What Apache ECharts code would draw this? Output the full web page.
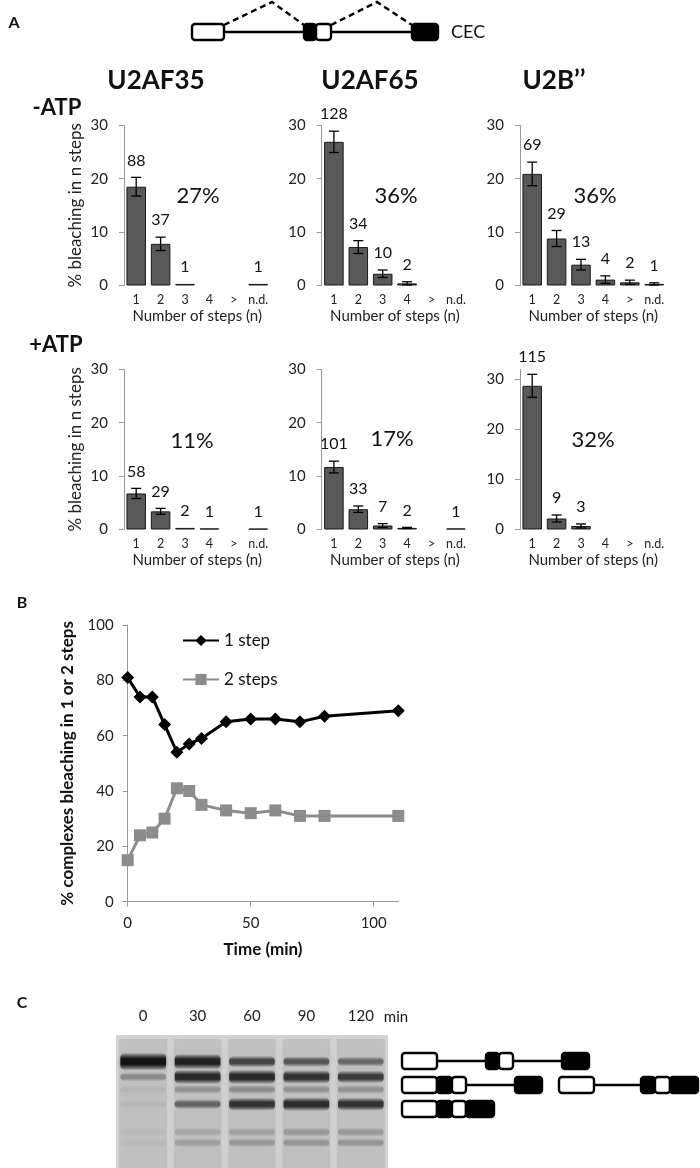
<!DOCTYPE html>
<html>
<head>
<meta charset="utf-8">
<script src="https://cdn.jsdelivr.net/npm/echarts@6/dist/echarts.min.js"></script>
<style>
html, body { margin: 0; padding: 0; background: #fff; }
#main { width: 700px; height: 1168px; }
</style>
</head>
<body>
<div id="main"></div>
<script>
// ---- panel A data ----
var stepCats = ['1', '2', '3', '4', '>', 'n.d.'];
var barTicks = [0, 10, 20, 30];

var u2af35MinusMean = [18.5, 7.8, 0.3, 0, 0, 0.3];
var u2af35MinusErr  = [1.75, 1.25, 0, 0, 0, 0];
var u2af35MinusN    = ['88', '37', '1', '', '', '1'];

var u2af65MinusMean = [26.9, 7.2, 2.2, 0.4, 0, 0];
var u2af65MinusErr  = [2.0, 1.2, 0.7, 0.3, 0, 0];
var u2af65MinusN    = ['128', '34', '10', '2', '', ''];

var u2bMinusMean = [20.9, 8.8, 3.9, 1.1, 0.6, 0.3];
var u2bMinusErr  = [2.2, 1.5, 1.0, 0.7, 0.4, 0.2];
var u2bMinusN    = ['69', '29', '13', '4', '2', '1'];

var u2af35PlusMean = [6.75, 3.4, 0.3, 0.2, 0, 0.15];
var u2af35PlusErr  = [0.95, 0.55, 0, 0, 0, 0];
var u2af35PlusN    = ['58', '29', '2', '1', '', '1'];

var u2af65PlusMean = [11.7, 3.8, 0.75, 0.3, 0, 0.2];
var u2af65PlusErr  = [1.1, 0.6, 0.35, 0.1, 0, 0];
var u2af65PlusN    = ['101', '33', '7', '2', '', '1'];

var u2bPlusMean = [28.7, 2.2, 0.7, 0, 0, 0];
var u2bPlusErr  = [2.3, 0.7, 0.4, 0, 0, 0];
var u2bPlusN    = ['115', '9', '3', '', '', ''];

var percents = ['27%', '36%', '36%', '11%', '17%', '32%'];

// ---- panel B data ----
var times    = [0, 5, 10, 15, 20, 25, 30, 40, 50, 60, 70, 80, 110];
var oneStep  = [81, 74, 74, 64, 54, 57, 59, 65, 66, 66, 65, 67, 69];
var twoSteps = [15, 24, 25, 30, 41, 40, 35, 33, 32, 33, 31, 31, 31];
var timeTicks = [0, 50, 100];

// ---- panel C data (gel) ----
var lanes = ['0', '30', '60', '90', '120'];
var bandPos = [20, 31.5, 41, 52, 73, 81];   // migration, % of gel height
var bandIntensity = [
    [1.0, 0.3, 0.06, 0.06, 0.04, 0.04],
    [0.9, 0.85, 0.25, 0.5, 0.14, 0.18],
    [0.68, 0.85, 0.28, 0.78, 0.18, 0.22],
    [0.58, 0.8, 0.25, 0.82, 0.22, 0.24],
    [0.48, 0.74, 0.25, 0.78, 0.22, 0.24]
];

var FONT = 'Lato, "Open Sans", sans-serif';
var chart = echarts.init(document.getElementById('main'));

var panels = [
    { mean: u2af35MinusMean, err: u2af35MinusErr, n: u2af35MinusN, max: 30 },
    { mean: u2af65MinusMean, err: u2af65MinusErr, n: u2af65MinusN, max: 30 },
    { mean: u2bMinusMean, err: u2bMinusErr, n: u2bMinusN, max: 30 },
    { mean: u2af35PlusMean, err: u2af35PlusErr, n: u2af35PlusN, max: 30 },
    { mean: u2af65PlusMean, err: u2af65PlusErr, n: u2af65PlusN, max: 30 },
    { mean: u2bPlusMean, err: u2bPlusErr, n: u2bPlusN, max: 32 }
];
var lefts = [124, 321.7, 520];
var tops = [125.3, 369.3];

var grids = [], xAxes = [], yAxes = [], series = [];

panels.forEach(function (p, i) {
    grids.push({ left: lefts[i % 3], top: tops[Math.floor(i / 3)], width: 146.4, height: 160.2 });
    xAxes.push({
        type: 'category', gridIndex: i, data: stepCats,
        axisLine: { show: false }, axisTick: { show: false },
        axisLabel: { interval: 0, fontSize: 12.5, margin: 8, color: '#222', fontFamily: FONT },
        name: 'Number of steps (n)', nameLocation: 'middle', nameGap: 23,
        nameTextStyle: { fontSize: 15, color: '#222', fontFamily: FONT }
    });
    yAxes.push({
        type: 'value', gridIndex: i, min: 0, max: p.max, interval: 10,
        axisLine: { show: true, lineStyle: { color: '#9a9a9a' } },
        axisTick: { show: true, length: 5, customValues: barTicks, lineStyle: { color: '#9a9a9a' } },
        axisLabel: { fontSize: 15, margin: 16, color: '#222', fontFamily: FONT, customValues: barTicks },
        splitLine: { show: false },
        name: i % 3 === 0 ? '% bleaching in n steps' : '',
        nameLocation: 'middle', nameGap: 40,
        nameTextStyle: { fontSize: 17, color: '#222', fontFamily: FONT }
    });
    series.push({
        type: 'bar', xAxisIndex: i, yAxisIndex: i, barWidth: '80%',
        data: p.mean.map(function (v) { return v === 0 ? '-' : v; }),
        itemStyle: { color: '#595959', borderColor: '#1a1a1a', borderWidth: 1 },
        silent: true
    });
    series.push({
        type: 'custom', xAxisIndex: i, yAxisIndex: i, clip: false, z: 5,
        data: p.mean.map(function (v, k) { return [k, v, p.err[k]]; }),
        encode: { x: 0, y: 1 },
        renderItem: function (params, api) {
            var x = api.value(0), m = api.value(1), e = api.value(2);
            var top = api.coord([x, m + e]);
            var bot = api.coord([x, m - e]);
            var kids = [];
            if (e > 0) {
                kids.push({ type: 'line', shape: { x1: top[0], y1: top[1], x2: bot[0], y2: bot[1] }, style: { stroke: '#000', lineWidth: 1.3 } });
                kids.push({ type: 'line', shape: { x1: top[0] - 5, y1: top[1], x2: top[0] + 5, y2: top[1] }, style: { stroke: '#000', lineWidth: 1.3 } });
                kids.push({ type: 'line', shape: { x1: bot[0] - 5, y1: bot[1], x2: bot[0] + 5, y2: bot[1] }, style: { stroke: '#000', lineWidth: 1.3 } });
            }
            var lbl = p.n[params.dataIndex];
            if (lbl) {
                kids.push({ type: 'text', x: top[0], y: top[1] - 17,
                    style: { text: lbl, fontSize: 16, fill: '#111', fontFamily: FONT, align: 'center', verticalAlign: 'middle' } });
            }
            return { type: 'group', children: kids };
        }
    });
});

// panel B
grids.push({ left: 127.7, top: 625, width: 270.6, height: 276.7 });
xAxes.push({
    type: 'value', gridIndex: 6, min: 0, max: 110,
    axisLine: { show: true, lineStyle: { color: '#9a9a9a' } },
    axisTick: { show: true, length: 5, customValues: timeTicks, lineStyle: { color: '#9a9a9a' } },
    axisLabel: { fontSize: 15, margin: 14, color: '#222', fontFamily: FONT, customValues: timeTicks },
    splitLine: { show: false },
    name: 'Time (min)', nameLocation: 'middle', nameGap: 39,
    nameTextStyle: { fontSize: 17, fontWeight: 'bold', color: '#111', fontFamily: FONT }
});
yAxes.push({
    type: 'value', gridIndex: 6, min: 0, max: 100, interval: 20,
    axisLine: { show: true, lineStyle: { color: '#9a9a9a' } },
    axisTick: { show: true, length: 5, lineStyle: { color: '#9a9a9a' } },
    axisLabel: { fontSize: 15, margin: 14, color: '#222', fontFamily: FONT },
    splitLine: { show: false },
    name: '% complexes bleaching in 1 or 2 steps', nameLocation: 'middle', nameGap: 52,
    nameTextStyle: { fontSize: 17, fontWeight: 'bold', color: '#111', fontFamily: FONT }
});
series.push({
    name: '1 step', type: 'line', xAxisIndex: 6, yAxisIndex: 6,
    data: times.map(function (t, k) { return [t, oneStep[k]]; }),
    symbol: 'diamond', symbolSize: 13, color: '#000',
    lineStyle: { width: 3, color: '#000' }, itemStyle: { color: '#000' }
});
series.push({
    name: '2 steps', type: 'line', xAxisIndex: 6, yAxisIndex: 6,
    data: times.map(function (t, k) { return [t, twoSteps[k]]; }),
    symbol: 'rect', symbolSize: 12, color: '#8c8c8c',
    lineStyle: { width: 3, color: '#8c8c8c' }, itemStyle: { color: '#8c8c8c' }
});

// panel C gel
grids.push({ left: 116, top: 1035, width: 272, height: 133, show: true, backgroundColor: '#d3d3d3', borderWidth: 0 });
xAxes.push({
    type: 'category', gridIndex: 7, data: lanes, position: 'top',
    axisLine: { show: false }, axisTick: { show: false },
    axisLabel: { fontSize: 15, margin: 11, color: '#222', fontFamily: FONT }
});
yAxes.push({ type: 'value', gridIndex: 7, min: 0, max: 100, inverse: true, show: false });

var gelBands = [];
bandIntensity.forEach(function (row, li) {
    row.forEach(function (a, bi) { gelBands.push([li, bandPos[bi], a]); });
});
series.push({
    type: 'custom', xAxisIndex: 7, yAxisIndex: 7, silent: true,
    data: lanes.map(function (l, li) { return [li, 0]; }),
    renderItem: function (params, api) {
        var c0 = api.coord([api.value(0), 0]);
        var c1 = api.coord([api.value(0), 100]);
        var w = api.size([1, 0])[0] * 0.88;
        return { type: 'rect', shape: { x: c0[0] - w / 2, y: c0[1] + 4, width: w, height: c1[1] - c0[1] },
            style: { fill: 'rgba(80,80,80,0.12)', shadowBlur: 10, shadowColor: 'rgba(80,80,80,0.25)' } };
    }
});
series.push({
    type: 'custom', xAxisIndex: 7, yAxisIndex: 7, silent: true,
    data: gelBands,
    renderItem: function (params, api) {
        var c = api.coord([api.value(0), api.value(1)]);
        var a = api.value(2);
        var w = api.size([1, 0])[0] * 0.84;
        var h = 9 + 9 * a * a * a;
        var col = function (o) { return 'rgba(12,12,12,' + o + ')'; };
        return { type: 'rect', shape: { x: c[0] - w / 2, y: c[1] - h / 2, width: w, height: h, r: 5 },
            style: {
                fill: new echarts.graphic.LinearGradient(0, 0, 0, 1, [
                    { offset: 0, color: col(0) },
                    { offset: 0.35, color: col(a * 0.95) },
                    { offset: 0.65, color: col(a * 0.95) },
                    { offset: 1, color: col(0) }
                ]),
                shadowBlur: 4, shadowColor: col(a * 0.3)
            } };
    }
});

// ---- drawings ----
function box(x0, x1, yc, fill) {
    return { type: 'rect', shape: { x: x0, y: yc - 8, width: x1 - x0, height: 16, r: 3 },
        style: { fill: fill, stroke: '#000', lineWidth: 2.4 }, z: 10 };
}
function wire(x0, x1, yc) {
    return { type: 'line', shape: { x1: x0, y1: yc, x2: x1, y2: yc }, style: { stroke: '#000', lineWidth: 2.4 }, z: 9 };
}
function txt(s, x, y, size, bold, align) {
    return { type: 'text', x: x, y: y, z: 10,
        style: { text: s, fontSize: size, fontWeight: bold ? 'bold' : 'normal', fontFamily: FONT, fill: '#111',
            align: align || 'center', verticalAlign: 'middle' } };
}

var W = '#fff', K = '#000';
var graphics = [
    txt('A', 14, 23, 16, true), txt('B', 22, 603, 16, true), txt('C', 22, 1003, 16, true),
    // CEC construct
    wire(224, 304, 32), wire(331, 412, 32),
    box(192, 224, 32, W), box(304, 316, 32, K), box(316, 331, 32, W), box(412, 438, 32, K),
    { type: 'polyline', shape: { points: [[224, 25], [272, 2], [304, 25]] }, style: { stroke: '#000', lineWidth: 2.4, lineDash: [6, 4], fill: null } },
    { type: 'polyline', shape: { points: [[331, 25], [377, 2], [412, 25]] }, style: { stroke: '#000', lineWidth: 2.4, lineDash: [6, 4], fill: null } },
    txt('CEC', 451, 32, 18, false, 'left'),
    txt('U2AF35', 156, 81, 26, true), txt('U2AF65', 370, 81, 26, true), txt('U2B\u2019\u2019', 554, 81, 26, true),
    txt('-ATP', 57, 108, 22, true), txt('+ATP', 56, 345, 22, true),
    txt('min', 396, 1017, 15, false),
    // gel products
    wire(437, 486, 1061), wire(513, 562, 1061),
    box(402, 437, 1061, W), box(486, 499, 1061, K), box(499, 513, 1061, W), box(562, 589, 1061, K),
    wire(466, 515, 1085),
    box(402, 437, 1085, W), box(437, 452, 1085, K), box(452, 466, 1085, W), box(515, 542, 1085, K),
    wire(594, 641, 1085),
    box(559, 594, 1085, W), box(641, 655, 1085, K), box(655, 670, 1085, W), box(670, 698, 1085, K),
    box(402, 437, 1109, W), box(437, 452, 1109, K), box(452, 466, 1109, W), box(466, 494, 1109, K)
];
var pctPos = [[198, 196], [396, 196], [595, 196], [192, 441], [392, 439], [593, 440]];
percents.forEach(function (s, i) { graphics.push(txt(s, pctPos[i][0], pctPos[i][1], 22, false)); });

var option = {
    animation: false,
    textStyle: { fontFamily: FONT },
    legend: {
        left: 177, top: 627, orient: 'vertical', itemWidth: 36, itemHeight: 14, itemGap: 22,
        textStyle: { fontSize: 17, color: '#111', fontFamily: FONT },
        data: ['1 step', '2 steps']
    },
    grid: grids,
    xAxis: xAxes,
    yAxis: yAxes,
    series: series,
    graphic: { elements: graphics }
};

option && chart.setOption(option);
</script>
</body>
</html>
